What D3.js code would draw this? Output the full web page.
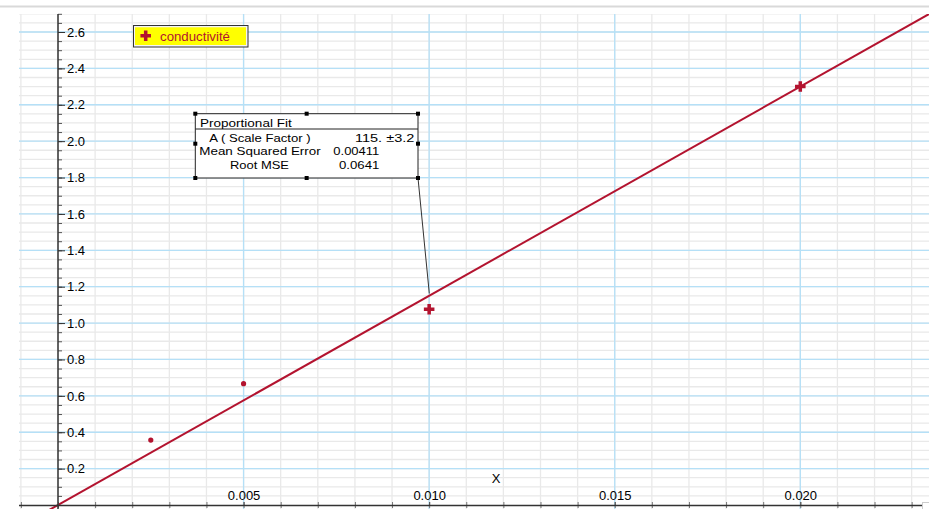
<!DOCTYPE html>
<html><head><meta charset="utf-8">
<script src="https://cdn.jsdelivr.net/npm/d3@7"></script>
<style>body{margin:0;background:#fff}svg{display:block}text{font-family:"Liberation Sans",Arial,sans-serif}</style>
</head><body>
<svg id="c" width="929" height="509"></svg>
<script>
// ---- data ----
const xValues = [0.0025, 0.005, 0.010, 0.020];
const yValues = [0.357, 0.667, 1.076, 2.30];
const markerKinds = ["dot", "dot", "plus", "plus"];
const seriesName = "conductivité";
const fitSlope = 115;
const yTicks = [0.2, 0.4, 0.6, 0.8, 1.0, 1.2, 1.4, 1.6, 1.8, 2.0, 2.2, 2.4, 2.6];
const xTicks = [0.005, 0.010, 0.015, 0.020];
const xLabel = "X";
const fitTitle = "Proportional Fit";
const fitRows = [["A ( Scale Factor )", "115. \u00b13.2"], ["Mean Squared Error", "0.00411"], ["Root MSE", "0.0641"]];

(function () {
const svg = d3.select("#c");
const red = "#b3132f";
const x = d3.scaleLinear().domain([0, 0.02]).range([58, 800.3]);
const y = d3.scaleLinear().domain([0, 2.6]).range([505, 32]);
const pLeft = 19, pRight = 929, pTop = 14, pBottom = 509;

// top separator
svg.append("line").attr("x1", 0).attr("x2", 929).attr("y1", 6.5).attr("y2", 6.5)
  .attr("stroke", "#d9d9d9").attr("stroke-width", 2);

svg.append("clipPath").attr("id", "pc").append("rect")
  .attr("x", pLeft).attr("y", pTop).attr("width", pRight - pLeft).attr("height", 520 - pTop);
const g = svg.append("g").attr("clip-path", "url(#pc)");

// minor grids
const xMinor = d3.range(-1, 24).map(i => i * 0.001);
const yMinor = d3.range(1, 55).map(i => i * 0.05);
g.selectAll(".vmin").data(xMinor).join("line")
  .attr("x1", d => x(d)).attr("x2", d => x(d)).attr("y1", pTop).attr("y2", pBottom)
  .attr("stroke", "#e9e9e9").attr("stroke-width", 1.3);
g.selectAll(".hmin").data(yMinor).join("line")
  .attr("x1", pLeft).attr("x2", pRight).attr("y1", d => y(d)).attr("y2", d => y(d))
  .attr("stroke", "#e9e9e9").attr("stroke-width", 1.3);
// major grids
g.selectAll(".vmaj").data(xTicks).join("line")
  .attr("x1", d => x(d)).attr("x2", d => x(d)).attr("y1", pTop).attr("y2", pBottom)
  .attr("stroke", "#b5e0f7").attr("stroke-width", 1.3);
g.selectAll(".hmaj").data(yTicks).join("line")
  .attr("x1", pLeft).attr("x2", pRight).attr("y1", d => y(d)).attr("y2", d => y(d))
  .attr("stroke", "#b5e0f7").attr("stroke-width", 1.3);

// axes
const xAxisMinor = svg.append("g").attr("transform", `translate(0,${y(0)})`)
  .call(d3.axisBottom(x).tickValues(xMinor).tickSize(3).tickFormat(""));
xAxisMinor.select(".domain").remove();
xAxisMinor.selectAll("line").attr("stroke", "#777").attr("y1", -3);
const xAxis = svg.append("g").attr("transform", `translate(0,${y(0)})`)
  .call(d3.axisTop(x).tickValues(xTicks).tickSize(3).tickPadding(2).tickFormat(d3.format(".3f")));
xAxis.select(".domain").remove();
xAxis.selectAll("text").attr("font-size", 13).attr("fill", "#000").attr("font-family", "Liberation Sans, Arial, sans-serif");
xAxis.selectAll("line").attr("stroke", "#555");
svg.append("line").attr("x1", pLeft).attr("x2", 922).attr("y1", y(0) + 0.5).attr("y2", y(0) + 0.5)
  .attr("stroke", "#333").attr("stroke-width", 1.5);

const yAxisMinor = svg.append("g").attr("transform", `translate(${x(0)},0)`)
  .call(d3.axisRight(y).tickValues(yMinor).tickSize(4).tickFormat(""));
yAxisMinor.select(".domain").remove();
yAxisMinor.selectAll("line").attr("stroke", "#555");
const yAxis = svg.append("g").attr("transform", `translate(${x(0)},0)`)
  .call(d3.axisRight(y).tickValues(yTicks).tickSize(7).tickPadding(2).tickFormat(d3.format(".1f")));
yAxis.select(".domain").remove();
yAxis.selectAll("line").attr("stroke", "#333");
yAxis.selectAll("text").attr("font-size", 13).attr("fill", "#000").attr("font-family", "Liberation Sans, Arial, sans-serif");
svg.append("line").attr("x1", x(0)).attr("x2", x(0)).attr("y1", pTop).attr("y2", pBottom)
  .attr("stroke", "#333").attr("stroke-width", 1.5);

// corner box at bottom right
svg.append("rect").attr("x", 922.5).attr("y", 502.5).attr("width", 8).attr("height", 8)
  .attr("fill", "#fff").attr("stroke", "#ccc");

// x label
svg.append("text").attr("x", 496).attr("y", 483).attr("text-anchor", "middle")
  .attr("font-size", 13).attr("fill", "#000").text(xLabel);

// fit line
const fitLine = d3.line().x(d => x(d)).y(d => y(fitSlope * d));
g.append("path").datum([-0.001, 0.0236]).attr("d", fitLine)
  .attr("fill", "none").attr("stroke", red).attr("stroke-width", 2);

// points
const pts = xValues.map((v, i) => ({x: v, y: yValues[i], k: markerKinds[i]}));
const plus = d3.symbol().type(d3.symbolCross).size(62);
g.selectAll(".dot").data(pts.filter(d => d.k === "dot")).join("circle")
  .attr("cx", d => x(d.x)).attr("cy", d => y(d.y)).attr("r", 2.6).attr("fill", red);
g.selectAll(".plus").data(pts.filter(d => d.k === "plus")).join("path")
  .attr("d", plus).attr("transform", d => `translate(${x(d.x)},${y(d.y)})`).attr("fill", red);

// legend
const lg = svg.append("g");
lg.append("rect").attr("x", 133.5).attr("y", 25.5).attr("width", 114.5).attr("height", 21.5)
  .attr("fill", "#f4f4f4").attr("stroke", "#333").attr("stroke-width", 1);
lg.append("rect").attr("x", 135).attr("y", 27.3).attr("width", 111).attr("height", 17.7).attr("fill", "#ffff00");
lg.append("path").attr("d", plus).attr("transform", "translate(145.7,35.7)").attr("fill", red);
lg.append("text").attr("x", 160).attr("y", 41).attr("font-size", 13).attr("fill", red)
  .attr("textLength", 70).attr("lengthAdjust", "spacingAndGlyphs").text(seriesName);

// fit box leader
const bx0 = 195.3, bx1 = 418, by0 = 113.7, by1 = 178;
svg.append("line").attr("x1", bx1).attr("y1", by1).attr("x2", 429.3).attr("y2", 293.5)
  .attr("stroke", "#333").attr("stroke-width", 1);
svg.append("rect").attr("x", bx0).attr("y", by0).attr("width", bx1 - bx0).attr("height", by1 - by0)
  .attr("fill", "#fff").attr("stroke", "#222").attr("stroke-width", 1);
svg.append("line").attr("x1", bx0).attr("x2", bx1).attr("y1", 129).attr("y2", 129)
  .attr("stroke", "#222").attr("stroke-width", 1);
const fs = 11.5;
svg.append("text").attr("x", 200).attr("y", 127.3).attr("font-size", fs).attr("fill", "#000")
  .attr("textLength", 91.7).attr("lengthAdjust", "spacingAndGlyphs").text(fitTitle);
const rowLayout = [
  {lx: 209.3, lw: 101.4, rx: 355, rw: 59.3, by: 142.3},
  {lx: 199.3, lw: 121.4, rx: 333.3, rw: 46, by: 155.3},
  {lx: 230, lw: 59, rx: 339, rw: 40.3, by: 168.5}
];
fitRows.forEach((r, i) => {
  const L = rowLayout[i];
  svg.append("text").attr("x", L.lx).attr("y", L.by).attr("font-size", fs).attr("fill", "#000")
    .attr("textLength", L.lw).attr("lengthAdjust", "spacingAndGlyphs").text(r[0]);
  svg.append("text").attr("x", L.rx).attr("y", L.by).attr("font-size", fs).attr("fill", "#000")
    .attr("textLength", L.rw).attr("lengthAdjust", "spacingAndGlyphs").text(r[1]);
});
// handles
const hx = [bx0, (bx0 + bx1) / 2, bx1], hy = [by0, 143.7, by1];
const handles = [];
hy.forEach((yy, j) => hx.forEach((xx, i) => { if (!(j === 1 && i === 1)) handles.push([xx, yy]); }));
svg.selectAll(".h").data(handles).join("rect")
  .attr("x", d => d[0] - 2).attr("y", d => d[1] - 2).attr("width", 4).attr("height", 4).attr("fill", "#000");
})();
</script>
</body></html>
